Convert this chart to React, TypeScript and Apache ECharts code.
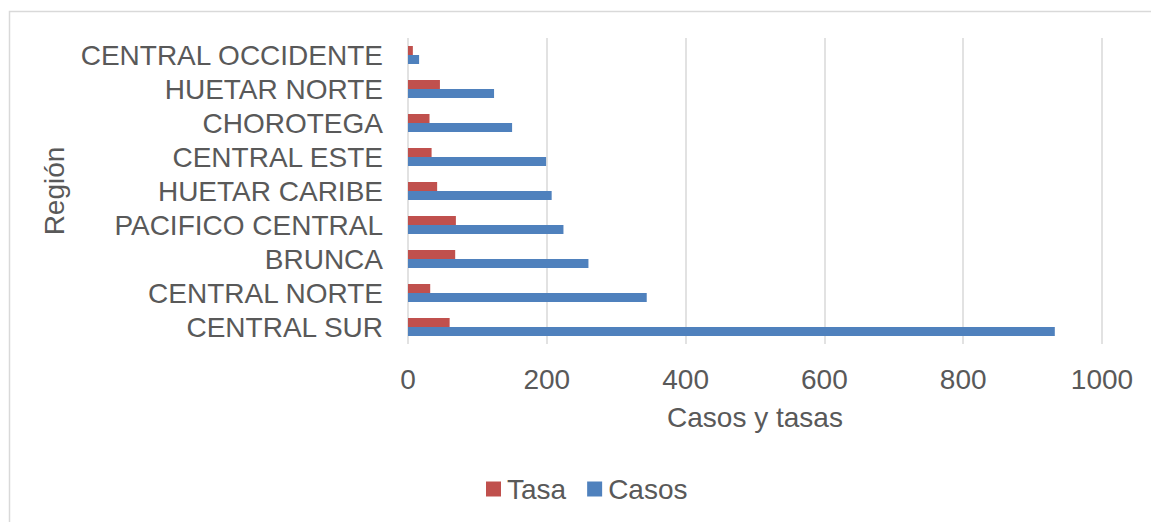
import React, { useEffect, useRef } from "react";
import * as echarts from "echarts";

const categories = [
  "CENTRAL SUR",
  "CENTRAL NORTE",
  "BRUNCA",
  "PACIFICO CENTRAL",
  "HUETAR CARIBE",
  "CENTRAL ESTE",
  "CHOROTEGA",
  "HUETAR NORTE",
  "CENTRAL OCCIDENTE",
];
const tasa = [60, 32, 68, 69, 42, 34, 31, 46, 7];
const casos = [932, 344, 260, 224, 207, 199, 150, 124, 16];
const xTicks = { min: 0, max: 1000, interval: 200 };

const FONT = "'Liberation Sans', Arial, sans-serif";
const TXT = "#595959";
const FS = 28;

export default function App() {
  const ref = useRef<HTMLDivElement>(null);
  useEffect(() => {
    if (!ref.current) return;
    const chart = echarts.init(ref.current, null, { renderer: "svg" });
    chart.setOption({
      animation: false,
      backgroundColor: "#ffffff",
      textStyle: { fontFamily: FONT },
      graphic: [
        {
          type: "rect",
          left: 7,
          top: 9,
          shape: { width: 1200, height: 600 },
          style: { fill: "none", stroke: "#d9d9d9", lineWidth: 1.5 },
          silent: true,
        },
      ],
      grid: { left: 408, right: 49, top: 38, bottom: 178, containLabel: false },
      legend: {
        data: ["Tasa", "Casos"],
        left: 481,
        top: 470,
        itemWidth: 15,
        itemHeight: 15,
        itemGap: 21,
        icon: "rect",
        textStyle: { fontSize: FS, color: TXT, fontFamily: FONT, padding: [0, 0, 0, 1] },
      },
      xAxis: {
        type: "value",
        min: xTicks.min,
        max: xTicks.max,
        interval: xTicks.interval,
        name: "Casos y tasas",
        nameLocation: "middle",
        nameGap: 59,
        nameTextStyle: { fontSize: FS, color: TXT, fontFamily: FONT },
        axisLine: { show: false },
        axisTick: { show: false },
        axisLabel: {
          fontSize: FS,
          color: TXT,
          fontFamily: FONT,
          margin: 21,
          formatter: (v: number) => String(v),
        },
        splitLine: { lineStyle: { color: "#d9d9d9", width: 1.5 } },
      },
      yAxis: {
        type: "category",
        data: categories,
        name: "Región",
        nameLocation: "middle",
        nameGap: 330,
        nameTextStyle: { fontSize: FS, color: TXT, fontFamily: FONT },
        axisLine: { show: false },
        axisTick: { show: false },
        axisLabel: { fontSize: FS, color: TXT, fontFamily: FONT, margin: 25, interval: 0 },
      },
      series: [
        {
          name: "Tasa",
          type: "bar",
          data: tasa,
          barWidth: 9,
          barGap: "0%",
          itemStyle: { color: "#C0504D" },
        },
        {
          name: "Casos",
          type: "bar",
          data: casos,
          barWidth: 9,
          barGap: "0%",
          itemStyle: { color: "#4F81BD" },
        },
      ],
    });
    return () => chart.dispose();
  }, []);
  return (
    <div
      ref={ref}
      style={{ position: "fixed", left: 0, top: 0, width: 1151, height: 522 }}
    />
  );
}
